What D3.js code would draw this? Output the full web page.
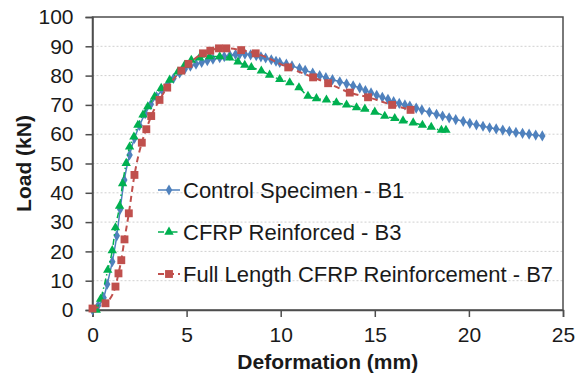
<!DOCTYPE html>
<html>
<head>
<meta charset="utf-8">
<script src="https://d3js.org/d3.v7.min.js"></script>
<style>
  body { margin: 0; background: white; }
  svg { display: block; font-family: "Liberation Sans", Arial, sans-serif; }
</style>
</head>
<body>
<svg id="chart" width="576" height="381"></svg>
<script>
// Control Specimen - B1  [deformation mm, load kN]
const b1 = [
  [0,0],[0.3,1.5],[0.59,4.2],[0.78,8.8],[1.05,16.5],[1.29,25.3],[1.47,34.4],[1.69,44.4],
  [1.97,52.9],[2.23,58.6],[2.5,63],[2.8,67],[3.1,70.2],[3.4,72.8],[3.7,75],[4.0,77],
  [4.3,79],[4.63,80.9],[4.9,82.2],[5.2,83.2],[5.5,83.9],[5.8,84.5],[6.1,85.1],[6.4,85.6],
  [6.76,86.1],[7.0,86.5],[7.3,86.9],[7.6,87.2],[7.82,87.3],[8.1,87.3],[8.4,87.1],[8.7,86.8],
  [8.95,86.4],[9.2,86.0],[9.5,85.4],[9.75,84.9],[9.95,84.5],[10.3,83.9],[10.6,83.3],[11.0,82.5],
  [11.3,81.8],[11.7,80.9],[12.07,80.0],[12.4,79.3],[12.75,78.6],[13.14,77.9],[13.5,77.2],[13.85,76.5],
  [14.2,75.8],[14.5,74.9],[14.8,74.1],[15.1,73.3],[15.4,72.6],[15.7,71.9],[16.0,71.1],[16.3,70.5],
  [16.6,70.0],[16.86,69.6],[17.2,68.9],[17.5,68.3],[17.9,67.5],[18.28,66.8],[18.6,66.2],[18.95,65.6],
  [19.3,65.0],[19.7,64.4],[20.05,63.7],[20.4,63.2],[20.75,62.7],[21.1,62.2],[21.45,61.8],[21.8,61.4],
  [22.15,61.0],[22.5,60.6],[22.85,60.3],[23.2,60.0],[23.55,59.7],[23.9,59.4]
];
// CFRP Reinforced - B3
const b3 = [
  [0.2,0],[0.43,3.7],[0.81,13.6],[1.05,20.3],[1.22,28.1],[1.44,35.5],[1.6,43.2],[1.79,50.1],
  [1.97,55.7],[2.2,59.1],[2.41,63.1],[2.68,66.6],[2.94,69.4],[3.3,72.8],[3.65,75.7],[4.1,78.5],
  [4.54,81.3],[4.9,83.6],[5.25,85.3],[5.69,86.1],[6.22,86.5],[6.76,86.5],[7.29,86.1],[7.73,84.7],
  [8.09,83.6],[8.44,82.8],[8.97,81.6],[9.41,80.2],[9.95,78.7],[10.48,77.6],[10.97,75.9],[11.45,73.0],
  [11.9,72.2],[12.43,71.7],[12.96,70.8],[13.5,70.0],[14.03,69.1],[14.47,68.6],[15.0,67.6],[15.53,66.2],
  [16.06,65.4],[16.5,64.6],[17.04,63.9],[17.53,63.1],[18.0,62.4],[18.54,61.4],[18.78,61.4]
];
// Full Length CFRP Reinforcement - B7
const b7 = [
  [0,0.5],[0.69,2.3],[1.22,8],[1.38,12.5],[1.53,17],[1.7,24.1],[1.93,33],[2.23,46.1],
  [2.62,57.1],[2.86,61.7],[3.12,66.2],[3.56,71.7],[3.97,75.9],[4.72,81.7],[5.1,84],[5.87,87.6],
  [6.26,88.5],[6.72,89.3],[7.11,89.3],[7.9,88.7],[8.67,87.6],[10.4,82.8],[11.72,79.4],[12.52,77.4],
  [13.67,74.2],[14.64,72.6],[15.92,70],[16.9,68.3]
];
const seriesNames = ["Control Specimen - B1", "CFRP Reinforced - B3", "Full Length CFRP Reinforcement - B7"];
const xTicks = [0, 5, 10, 15, 20, 25];
const yTicks = [0, 10, 20, 30, 40, 50, 60, 70, 80, 90, 100];

const series = [
  {name: seriesNames[0], data: b1, color: "#4f81bd", dash: null, width: 1.5, sym: d3.symbolDiamond, size: 36},
  {name: seriesNames[1], data: b3, color: "#00b050", dash: "6,3,1.5,3", width: 1.5, sym: d3.symbolTriangle, size: 38},
  {name: seriesNames[2], data: b7, color: "#c0504d", dash: "6,4", width: 2, sym: d3.symbolSquare, size: 62}
];

const svg = d3.select("#chart");
const m = {l: 92.5, r: 13, t: 17, b: 71};
const W = 576, H = 381;
const x = d3.scaleLinear([0, 25], [m.l, W - m.r]);
const y = d3.scaleLinear([0, 100], [H - m.b, m.t]);

// gridlines
svg.append("g").selectAll("line")
  .data(yTicks.filter(t => t > 0 && t < 100))
  .join("line")
  .attr("x1", m.l).attr("x2", W - m.r)
  .attr("y1", d => y(d)).attr("y2", d => y(d))
  .attr("stroke", "#d0d0d0").attr("stroke-width", 1).attr("stroke-dasharray", "2,2");

// plot border
svg.append("rect")
  .attr("x", m.l).attr("y", m.t)
  .attr("width", W - m.r - m.l).attr("height", H - m.b - m.t)
  .attr("fill", "none").attr("stroke", "#4d4d4d").attr("stroke-width", 1.5);

// axes
const xAxis = svg.append("g")
  .attr("transform", `translate(0,${H - m.b})`)
  .call(d3.axisBottom(x).tickValues(xTicks).tickSize(7).tickPadding(10));
const yAxis = svg.append("g")
  .attr("transform", `translate(${m.l},0)`)
  .call(d3.axisLeft(y).tickValues(yTicks).tickSize(7).tickPadding(12));
[xAxis, yAxis].forEach(a => {
  a.select(".domain").attr("stroke", "#4d4d4d").attr("stroke-width", 1.5);
  a.selectAll(".tick line").attr("stroke", "#4d4d4d").attr("stroke-width", 1.5);
  a.selectAll("text").attr("font-size", 21).attr("fill", "#1a1a1a")
    .attr("font-family", "Liberation Sans, Arial, sans-serif");
});

// axis titles
svg.append("text")
  .attr("x", (m.l + W - m.r) / 2).attr("y", 369)
  .attr("text-anchor", "middle").attr("font-size", 21).attr("font-weight", "bold")
  .attr("fill", "#1a1a1a").text("Deformation (mm)");
svg.append("text")
  .attr("transform", `translate(31,${(m.t + H - m.b) / 2}) rotate(-90)`)
  .attr("text-anchor", "middle").attr("font-size", 21).attr("font-weight", "bold")
  .attr("fill", "#1a1a1a").text("Load (kN)");

// lines and markers
const line = d3.line().x(d => x(d[0])).y(d => y(d[1])).curve(d3.curveMonotoneX);
series.forEach(s => {
  svg.append("path")
    .datum(s.data)
    .attr("d", line)
    .attr("fill", "none")
    .attr("stroke", s.color)
    .attr("stroke-width", s.width)
    .attr("stroke-dasharray", s.dash);
  svg.append("g").selectAll("path")
    .data(s.data)
    .join("path")
    .attr("transform", d => `translate(${x(d[0])},${y(d[1])})`)
    .attr("d", d3.symbol(s.sym, s.size))
    .attr("fill", s.color);
});

// legend
const lg = svg.append("g").attr("transform", "translate(158,190)");
series.forEach((s, i) => {
  const g = lg.append("g").attr("transform", `translate(0,${i * 42})`);
  g.append("line").attr("x1", 0).attr("x2", 22)
    .attr("stroke", s.color).attr("stroke-width", s.width).attr("stroke-dasharray", s.dash);
  g.append("path").attr("transform", "translate(11,0)")
    .attr("d", d3.symbol(s.sym, s.size)).attr("fill", s.color);
  g.append("text").attr("x", 25).attr("dy", "0.35em")
    .attr("font-size", 22).attr("fill", "#1a1a1a").text(s.name);
});
</script>
</body>
</html>
